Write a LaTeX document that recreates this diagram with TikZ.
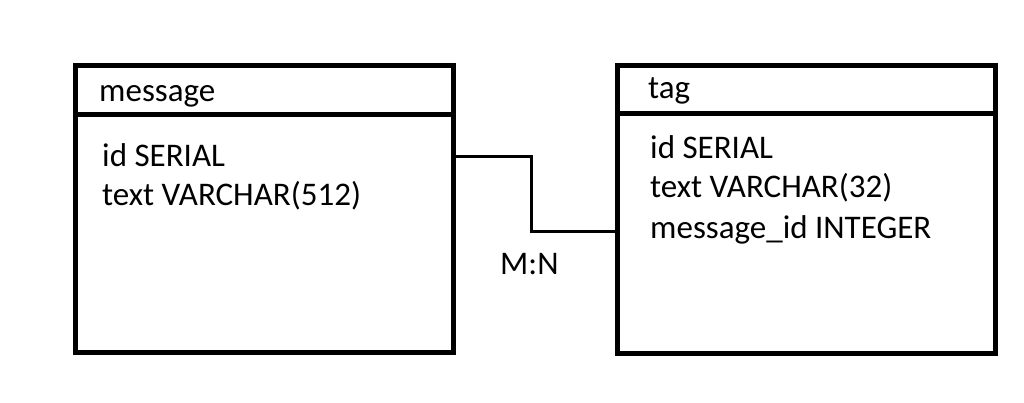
\documentclass[tikz,border=0pt]{standalone}
\usepackage{fontspec}
\setmainfont{Carlito}
\begin{document}
\begin{tikzpicture}[x=1pt, y=-1pt,
    tablebox/.style={draw, line width=5pt, minimum width=377.5pt, minimum height=287pt, inner sep=0pt},
    field/.style={anchor=base west, inner sep=0pt, font=\fontsize{33}{38}\selectfont},
    link/.style={line width=3pt}]
    \useasboundingbox (0,0) rectangle (1024,403);

    \node[tablebox] (message) at (264.25, 209) {};
    \node[tablebox] (tag) at (806.25, 209.5) {};
    \draw[line width=5pt] (message.west |- 0,115) -- (message.east |- 0,115);
    \draw[line width=5pt] (tag.west |- 0,114) -- (tag.east |- 0,114);

    \node[field] (mname) at (99, 102) {message};
    \node[field] (mid) at (102, 167) {id SERIAL};
    \node[field] (mtext) at (102, 206) {text VARCHAR(512)};

    \node[field] (tname) at (648, 99) {tag};
    \node[field] (tid) at (650, 159) {id SERIAL};
    \node[field] (ttext) at (650, 198) {text VARCHAR(32)};
    \node[field] (tmsg) at (650, 238) {message\_id INTEGER};

    \coordinate (j1) at (531.5, 156.5);
    \coordinate (j2) at (531.5, 232);
    \draw[link] (message.east |- j1) -- (j1) -- (j2) -- (tag.west |- j2);
    \node[field] (card) at (500, 274) {M:N};
\end{tikzpicture}
\end{document}
